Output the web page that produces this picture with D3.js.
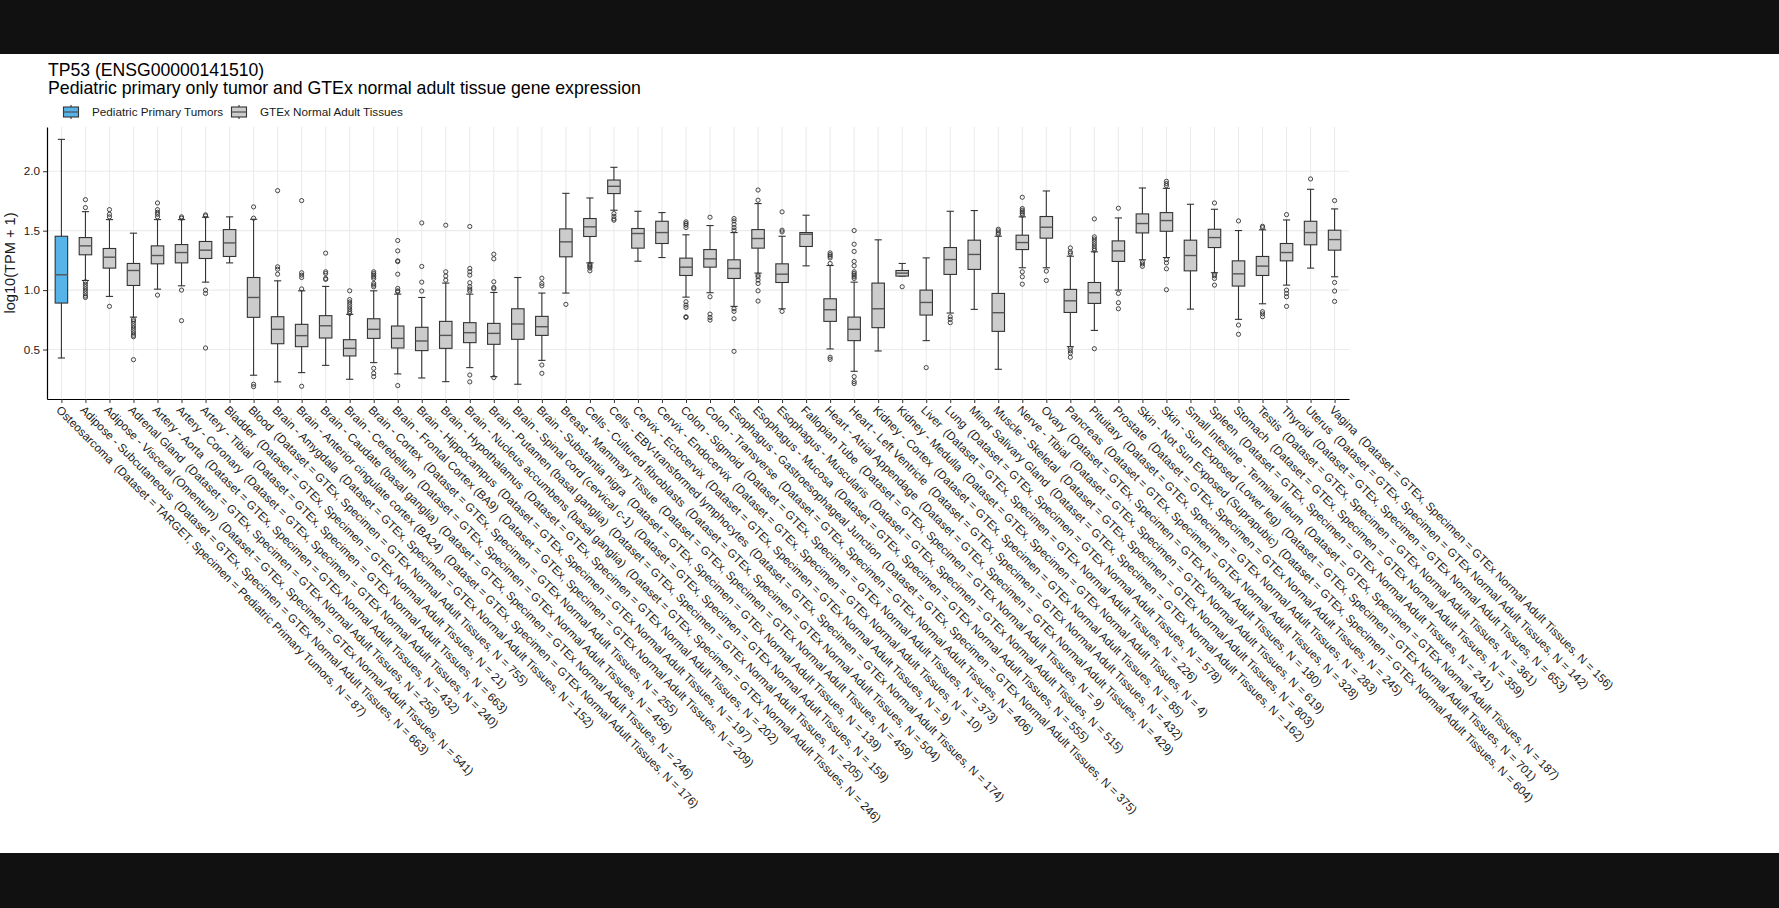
<!DOCTYPE html>
<html>
<head>
<meta charset="utf-8">
<script src="https://cdn.jsdelivr.net/npm/d3@7"></script>
<style>
  body { margin: 0; background: #111; }
  svg text { font-family: "Liberation Sans", Arial, Helvetica, sans-serif; }
</style>
</head>
<body>
<svg id="chart" width="1779" height="908"></svg>
<script>
// tissue categories, left to right
var tissues = [
  "Osteosarcoma", "Adipose - Subcutaneous", "Adipose - Visceral (Omentum)", "Adrenal Gland",
  "Artery - Aorta", "Artery - Coronary", "Artery - Tibial", "Bladder", "Blood",
  "Brain - Amygdala", "Brain - Anterior cingulate cortex (BA24)", "Brain - Caudate (basal ganglia)",
  "Brain - Cerebellum", "Brain - Cortex", "Brain - Frontal Cortex (BA9)", "Brain - Hippocampus",
  "Brain - Hypothalamus", "Brain - Nucleus accumbens (basal ganglia)", "Brain - Putamen (basal ganglia)",
  "Brain - Spinal cord (cervical c-1)", "Brain - Substantia nigra", "Breast - Mammary Tissue",
  "Cells - Cultured fibroblasts", "Cells - EBV-transformed lymphocytes", "Cervix - Ectocervix",
  "Cervix - Endocervix", "Colon - Sigmoid", "Colon - Transverse", "Esophagus - Gastroesophageal Junction",
  "Esophagus - Mucosa", "Esophagus - Muscularis", "Fallopian Tube", "Heart - Atrial Appendage",
  "Heart - Left Ventricle", "Kidney - Cortex", "Kidney - Medulla", "Liver", "Lung",
  "Minor Salivary Gland", "Muscle - Skeletal", "Nerve - Tibial", "Ovary", "Pancreas", "Pituitary",
  "Prostate", "Skin - Not Sun Exposed (Suprapubic)", "Skin - Sun Exposed (Lower leg)",
  "Small Intestine - Terminal Ileum", "Spleen", "Stomach", "Testis", "Thyroid", "Uterus", "Vagina"
];
var tumorTissues = ["Osteosarcoma"];

var sampleN = [87, 663, 541, 258, 432, 240, 663, 21, 755, 152, 176, 246, 456, 255, 209, 197, 202, 246,
  205, 159, 139, 459, 504, 174, 9, 10, 373, 406, 375, 555, 515, 9, 429, 432, 85, 4, 226, 578, 162,
  803, 619, 180, 328, 283, 245, 604, 701, 187, 241, 359, 361, 653, 142, 156];

// box statistics, log10(TPM + 1)
var whiskerLow = [0.429, 1.081, 0.947, 0.773, 1.008, 1.036, 1.067, 1.229, 0.284, 0.228, 0.306, 0.367,
  0.25, 0.39, 0.295, 0.261, 0.23, 0.348, 0.272, 0.208, 0.409, 0.975, 1.229, 1.672, 1.243, 1.274,
  0.941, 0.978, 0.863, 1.143, 0.843, 1.204, 0.505, 0.317, 0.488, 1.118, 0.575, 0.807, 0.838, 0.334,
  1.188, 1.188, 0.524, 0.661, 1.0, 1.255, 1.274, 0.84, 1.146, 0.754, 0.885, 1.042, 1.185, 1.112];
var q1 = [0.891, 1.297, 1.185, 1.039, 1.221, 1.229, 1.266, 1.283, 0.771, 0.549, 0.524, 0.597,
  0.446, 0.594, 0.513, 0.491, 0.51, 0.558, 0.544, 0.586, 0.619, 1.28, 1.451, 1.812, 1.353, 1.392,
  1.123, 1.193, 1.098, 1.353, 1.064, 1.367, 0.737, 0.575, 0.684, 1.118, 0.79, 1.132, 1.174, 0.653,
  1.341, 1.437, 0.812, 0.888, 1.241, 1.481, 1.495, 1.162, 1.358, 1.034, 1.123, 1.246, 1.381, 1.336];
var median = [1.129, 1.372, 1.277, 1.165, 1.291, 1.316, 1.336, 1.397, 0.938, 0.670, 0.617, 0.70,
  0.51, 0.670, 0.594, 0.572, 0.619, 0.642, 0.636, 0.715, 0.692, 1.406, 1.532, 1.873, 1.476, 1.484,
  1.193, 1.263, 1.182, 1.434, 1.134, 1.47, 0.835, 0.67, 0.843, 1.143, 0.896, 1.257, 1.3, 0.81,
  1.40, 1.529, 0.91, 0.978, 1.33, 1.56, 1.585, 1.291, 1.442, 1.137, 1.202, 1.316, 1.484, 1.425];
var q3 = [1.453, 1.442, 1.35, 1.224, 1.372, 1.383, 1.409, 1.509, 1.106, 0.776, 0.712, 0.785,
  0.583, 0.759, 0.698, 0.687, 0.737, 0.726, 0.72, 0.843, 0.779, 1.515, 1.602, 1.926, 1.518, 1.579,
  1.269, 1.341, 1.255, 1.509, 1.221, 1.484, 0.927, 0.773, 1.059, 1.165, 1.0, 1.358, 1.42, 0.972,
  1.462, 1.619, 1.006, 1.064, 1.414, 1.641, 1.652, 1.42, 1.512, 1.246, 1.283, 1.392, 1.579, 1.504];
var whiskerHigh = [2.268, 1.66, 1.593, 1.479, 1.593, 1.593, 1.613, 1.616, 1.596, 1.078, 0.994, 1.031,
  0.796, 0.994, 0.966, 0.938, 1.059, 0.966, 0.98, 1.106, 0.975, 1.814, 1.775, 2.033, 1.663, 1.652,
  1.465, 1.543, 1.484, 1.728, 1.453, 1.63, 1.207, 1.067, 1.423, 1.224, 1.271, 1.663, 1.669, 1.453,
  1.616, 1.834, 1.285, 1.322, 1.607, 1.859, 1.856, 1.722, 1.68, 1.501, 1.507, 1.59, 1.848, 1.683];
var outliers = [
  [],
  [1.761, 1.694, 1.07, 1.05, 1.03, 1.01, 0.99, 0.97, 0.95, 0.938],
  [1.677, 1.638, 1.616, 0.863],
  [0.754, 0.74, 0.72, 0.70, 0.68, 0.66, 0.64, 0.62, 0.608, 0.415],
  [1.733, 1.677, 1.655, 1.638, 1.616, 0.958],
  [1.616, 1.605, 1.0, 0.743],
  [1.633, 1.624, 1.0, 0.972, 0.513],
  [],
  [1.70, 1.605, 0.208, 0.188],
  [1.837, 1.196, 1.176, 1.134],
  [1.753, 1.146, 1.126, 1.106, 1.01, 0.191],
  [1.311, 1.154, 1.14, 1.098, 1.09],
  [0.994, 0.92, 0.90, 0.88, 0.86, 0.84, 0.82, 0.804],
  [1.154, 1.14, 1.126, 1.112, 1.098, 1.056, 1.042, 1.028, 0.342, 0.30, 0.272],
  [1.417, 1.33, 1.246, 1.24, 1.134, 1.014, 0.994, 0.986, 0.197],
  [1.565, 1.199, 1.067, 0.992],
  [1.546, 1.154, 1.118, 1.084],
  [1.535, 1.182, 1.154, 1.126, 1.062, 1.028, 1.008, 0.992, 0.286, 0.228],
  [1.302, 1.263, 1.07, 1.022, 1.011, 0.264],
  [],
  [1.1, 1.056, 1.036, 0.37, 0.30],
  [0.88],
  [1.218, 1.207, 1.196, 1.185, 1.162],
  [1.644, 1.621, 1.599, 1.588],
  [],
  [],
  [1.574, 1.56, 1.546, 1.526, 0.902, 0.874, 0.854, 0.776, 0.77],
  [1.613, 0.944, 0.798, 0.77, 0.748],
  [1.602, 1.582, 1.554, 1.526, 1.504, 0.843, 0.821, 0.759, 0.485],
  [1.842, 1.756, 1.126, 1.112, 1.084, 1.056, 0.994, 0.908],
  [1.658, 1.504, 1.49, 0.821],
  [],
  [1.313, 1.299, 1.285, 1.271, 1.224, 0.435, 0.418],
  [1.501, 1.386, 1.325, 1.241, 1.204, 1.154, 1.14, 1.126, 1.112, 1.098, 0.272, 0.23, 0.214],
  [],
  [1.028],
  [0.348],
  [0.776, 0.754, 0.726],
  [],
  [1.512, 1.498, 1.481, 1.47],
  [1.781, 1.686, 1.672, 1.658, 1.644, 1.63, 1.154, 1.112, 1.05],
  [1.16, 1.081],
  [1.355, 1.322, 1.308, 0.51, 0.49, 0.47, 0.435],
  [1.599, 1.448, 1.43, 1.41, 1.39, 1.37, 1.35, 1.335, 0.507],
  [1.689, 0.972, 0.894, 0.843],
  [1.238, 1.22, 1.2],
  [1.915, 1.896, 1.879, 1.257, 1.229, 1.179, 1.003],
  [],
  [1.733, 1.134, 1.12, 1.098, 1.042],
  [1.582, 0.706, 0.628],
  [1.537, 1.526, 0.818, 0.80, 0.776],
  [1.635, 1.0, 0.972, 0.944, 0.863],
  [1.935],
  [1.753, 1.064, 0.992, 0.905]
];

var yTicks = [0.5, 1.0, 1.5, 2.0];
var legendLabels = ["Pediatric Primary Tumors", "GTEx Normal Adult Tissues"];
var fillColors = ["#56B4E9", "#CCCCCC"];

var W = 1779, H = 908;
var svg = d3.select("#chart");
var textCol = "#1a1a1a", lineCol = "#333333";

// letterbox background
svg.append("rect").attr("width", W).attr("height", H).attr("fill", "#111111");
svg.append("rect").attr("x", 0).attr("y", 54).attr("width", W).attr("height", 799).attr("fill", "#ffffff");

// panel edges (pixels)
var panelL = 47, panelR = 1349, panelT = 127, panelB = 399;

var x = d3.scalePoint().domain(tissues).range([panelL, panelR]).padding(0.6);
var step = x.step();
var allVals = whiskerLow.concat(whiskerHigh, d3.merge(outliers));
var ext = d3.extent(allVals), pad = (ext[1] - ext[0]) * 0.05;
var y = d3.scaleLinear().domain([ext[0] - pad, ext[1] + pad]).range([panelB, panelT]);

function isTumor(t) { return tumorTissues.indexOf(t) >= 0; }
function labelOf(t, i) {
  return t + "  (Dataset = " + (isTumor(t) ? "TARGET" : "GTEx") + ", Specimen = " +
    (isTumor(t) ? legendLabels[0] : legendLabels[1]) + ", N = " + sampleN[i] + ")";
}

// grid
var grid = svg.append("g");
grid.selectAll("line.h").data(yTicks).enter().append("line")
  .attr("x1", panelL).attr("x2", panelR)
  .attr("y1", function(d) { return y(d); }).attr("y2", function(d) { return y(d); })
  .attr("stroke", "#ebebeb").attr("stroke-width", 1.1);
grid.selectAll("line.v").data(tissues).enter().append("line")
  .attr("x1", function(d) { return x(d); }).attr("x2", function(d) { return x(d); })
  .attr("y1", panelT).attr("y2", panelB)
  .attr("stroke", "#ebebeb").attr("stroke-width", 1.1);

// boxplots
var boxW = step * 0.52, capW = step * 0.3;
var boxes = svg.append("g").selectAll("g").data(tissues).enter().append("g")
  .attr("transform", function(d) { return "translate(" + x(d) + ",0)"; });

boxes.append("line")
  .attr("y1", function(d, i) { return y(whiskerLow[i]); })
  .attr("y2", function(d, i) { return y(whiskerHigh[i]); })
  .attr("stroke", lineCol).attr("stroke-width", 1.1);
boxes.append("line")
  .attr("x1", -capW / 2).attr("x2", capW / 2)
  .attr("y1", function(d, i) { return y(whiskerHigh[i]); })
  .attr("y2", function(d, i) { return y(whiskerHigh[i]); })
  .attr("stroke", lineCol).attr("stroke-width", 1.1);
boxes.append("line")
  .attr("x1", -capW / 2).attr("x2", capW / 2)
  .attr("y1", function(d, i) { return y(whiskerLow[i]); })
  .attr("y2", function(d, i) { return y(whiskerLow[i]); })
  .attr("stroke", lineCol).attr("stroke-width", 1.1);
boxes.append("rect")
  .attr("x", -boxW / 2).attr("width", boxW)
  .attr("y", function(d, i) { return y(q3[i]); })
  .attr("height", function(d, i) { return y(q1[i]) - y(q3[i]); })
  .attr("fill", function(d) { return isTumor(d) ? fillColors[0] : fillColors[1]; })
  .attr("stroke", lineCol).attr("stroke-width", 1.1);
boxes.append("line")
  .attr("x1", -boxW / 2).attr("x2", boxW / 2)
  .attr("y1", function(d, i) { return y(median[i]); })
  .attr("y2", function(d, i) { return y(median[i]); })
  .attr("stroke", "#555555").attr("stroke-width", 1.4);
boxes.selectAll("circle").data(function(d, i) { return outliers[i]; }).enter().append("circle")
  .attr("cx", 0).attr("cy", function(v) { return y(v); }).attr("r", 2.1)
  .attr("fill", "none").attr("stroke", lineCol).attr("stroke-width", 0.9);

// y axis
var yAxis = svg.append("g").attr("transform", "translate(" + panelL + ",0)")
  .call(d3.axisLeft(y).tickValues(yTicks).tickFormat(d3.format(".1f")).tickSize(4).tickSizeOuter(0));
yAxis.select(".domain").attr("stroke", "#000").attr("stroke-width", 1.2);
yAxis.selectAll(".tick line").attr("stroke", lineCol);
yAxis.selectAll("text").attr("font-size", "11.7px").attr("fill", textCol)
  .attr("font-family", "Liberation Sans, Arial, sans-serif");

// x axis
var xAxis = svg.append("g").attr("transform", "translate(0," + panelB + ")")
  .call(d3.axisBottom(x).tickSize(4).tickSizeOuter(0).tickFormat(function(d, i) { return labelOf(d, i); }));
xAxis.select(".domain").attr("stroke", "#000").attr("stroke-width", 1.2);
xAxis.selectAll(".tick line").attr("stroke", lineCol);
xAxis.selectAll("text")
  .attr("transform", "translate(0,4) rotate(45)")
  .attr("text-anchor", "start").attr("x", 1).attr("y", 10).attr("dy", null)
  .attr("font-size", "11.7px").attr("fill", textCol)
  .attr("font-family", "Liberation Sans, Arial, sans-serif")
  .style("white-space", "pre");

// y title
svg.append("text").attr("transform", "translate(15," + ((panelT + panelB) / 2) + ") rotate(-90)")
  .attr("text-anchor", "middle").attr("font-size", "14.6px").attr("fill", textCol)
  .text("log10(TPM + 1)");

// titles
svg.append("text").attr("x", 48).attr("y", 76).attr("font-size", "17.6px").attr("fill", "#000")
  .text("TP53 (ENSG00000141510)");
svg.append("text").attr("x", 48).attr("y", 94).attr("font-size", "17.7px").attr("fill", "#000")
  .text("Pediatric primary only tumor and GTEx normal adult tissue gene expression");

// legend
var legendX = [71, 239];
var leg = svg.append("g").selectAll("g").data(legendLabels).enter().append("g")
  .attr("transform", function(d, i) { return "translate(" + legendX[i] + ",112)"; });
leg.append("line").attr("y1", -7).attr("y2", 7).attr("stroke", lineCol).attr("stroke-width", 1.1);
leg.append("rect").attr("x", -7.5).attr("y", -5).attr("width", 15).attr("height", 10)
  .attr("fill", function(d, i) { return fillColors[i]; }).attr("stroke", lineCol).attr("stroke-width", 1.1);
leg.append("line").attr("x1", -7.5).attr("x2", 7.5).attr("stroke", "#555555").attr("stroke-width", 1.3);
leg.append("text").attr("x", 21).attr("y", 4).attr("font-size", "11.7px").attr("fill", textCol)
  .text(function(d) { return d; });
</script>
</body>
</html>
